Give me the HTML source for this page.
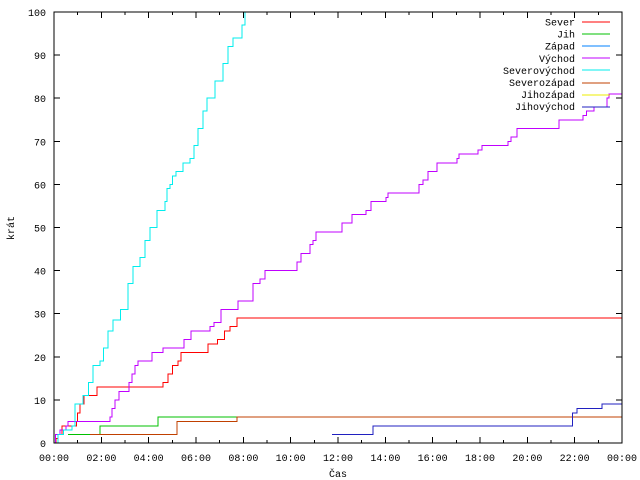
<!DOCTYPE html>
<html><head><meta charset="utf-8"><style>
body{margin:0;background:#fff}
svg{display:block;font-family:"Liberation Mono",monospace;font-size:10px}
</style></head><body>
<svg id="chart" width="640" height="480" viewBox="0 0 640 480" xmlns="http://www.w3.org/2000/svg">
<rect x="0" y="0" width="640" height="480" fill="#fff"/>
<g id="grid" shape-rendering="crispEdges"></g>
<g id="series" shape-rendering="crispEdges"></g>
<rect x="54" y="12" width="568" height="431" fill="none" stroke="#000" stroke-width="1" shape-rendering="crispEdges"/>
<g id="legend"></g>
<text x="14" y="228" text-anchor="middle" transform="rotate(-90 14 228)">krát</text>
<text x="338" y="477" text-anchor="middle">Čas</text>
</svg>
<script>
const yTicks=[0,10,20,30,40,50,60,70,80,90,100];
const xTickLabels=["00:00","02:00","04:00","06:00","08:00","10:00","12:00","14:00","16:00","18:00","20:00","22:00","00:00"];
const seriesNames=["Sever","Jih","Západ","Východ","Severovýchod","Severozápad","Jihozápad","Jihovýchod"];
const seriesColors=["#ff0000","#00c000","#0080ff","#c000ff","#00eeee","#c04000","#eeee00","#2020c0"];
// step data: [hour, value] - value holds from that hour onward
const sever=[[0.05,0],[0.08,1],[0.17,2],[0.34,4],[0.95,5],[1.0,7],[1.1,9],[1.27,11],[1.82,13],[4.6,14],[4.82,16],[5.0,18],[5.24,19],[5.37,21],[6.5,23],[6.9,24],[7.2,26],[7.44,27],[7.73,29]];
const jih=[[0.6,2],[1.94,4],[4.4,6]];
const zapad=[];
const vychod=[[0.0,0],[0.07,2],[0.25,3],[0.5,4],[0.6,5],[2.37,6],[2.45,8],[2.58,10],[2.75,12],[3.17,14],[3.3,16],[3.42,18],[3.55,19],[4.14,21],[4.6,22],[5.5,24],[5.79,26],[6.6,27],[6.76,28],[7.05,31],[7.77,33],[8.41,37],[8.7,38],[8.92,40],[10.27,42],[10.44,44],[10.82,46],[10.95,47],[11.07,49],[12.17,51],[12.59,53],[13.18,54],[13.39,56],[14.03,57],[14.11,58],[15.42,60],[15.6,61],[15.8,63],[16.18,65],[17.03,66],[17.11,67],[17.92,68],[18.08,69],[19.18,70],[19.3,71],[19.56,73],[21.34,75],[22.35,76],[22.5,77],[22.82,78],[23.37,80],[23.45,81]];
const severovychod=[[0.1,0],[0.17,2],[0.4,3],[0.76,4],[0.89,9],[1.23,11],[1.45,14],[1.65,18],[1.95,19],[2.1,22],[2.28,26],[2.5,28.5],[2.8,31],[3.13,37],[3.34,41],[3.63,43],[3.85,47],[4.06,50],[4.35,54],[4.69,56],[4.77,59],[4.9,60],[5.0,62],[5.15,63],[5.45,65],[5.75,66],[5.92,69],[6.08,73],[6.3,77],[6.46,80],[6.8,84],[7.14,88],[7.35,92],[7.56,94],[7.94,97],[8.07,100]];
const severozapad=[[1.52,2],[5.2,5],[7.73,6]];
const jihozapad=[];
const jihovychod=[[11.75,2],[13.48,4],[21.9,7],[22.1,8],[23.16,9]];
const allSeries=[sever,jih,zapad,vychod,severovychod,severozapad,jihozapad,jihovychod];
const X0=54,X1=622,Y0=443,Y1=12;
function xs(h){return X0+h*(X1-X0)/24;}
function ys(v){return Y0-v*(Y0-Y1)/100;}
const NS="http://www.w3.org/2000/svg";
const grid=document.getElementById('grid');
yTicks.forEach(v=>{
  const y=ys(v);
  const t=document.createElementNS(NS,'path');
  t.setAttribute('d',`M${X0} ${y}H${X0+6}M${X1} ${y}H${X1-6}`);
  t.setAttribute('stroke','#000');
  
  
  grid.appendChild(t);
  const l=document.createElementNS(NS,'text');
  l.setAttribute('x',46);l.setAttribute('y',y+4);l.setAttribute('text-anchor','end');
  l.textContent=v;
  
  
  grid.appendChild(l);
});
for(let h=0;h<=24;h++){
  const x=xs(h);
  const t=document.createElementNS(NS,'path');
  const len=(h%2===0)?6:3;
  t.setAttribute('d',`M${x} ${Y0}V${Y0-len}M${x} ${Y1}V${Y1+len}`);
  t.setAttribute('stroke','#000');
  
  
  grid.appendChild(t);
}
xTickLabels.forEach((s,i)=>{
  const l=document.createElementNS(NS,'text');
  l.setAttribute('x',xs(i*2));l.setAttribute('y',461);l.setAttribute('text-anchor','middle');
  l.textContent=s;
  
  
  grid.appendChild(l);
});
const sg=document.getElementById('series');
allSeries.forEach((pts,i)=>{
  if(!pts.length)return;
  let d=`M${xs(pts[0][0])} ${ys(pts[0][1])}`;
  for(let k=1;k<pts.length;k++){d+=`H${xs(pts[k][0])}V${ys(pts[k][1])}`;}
  if(pts[pts.length-1][1]<100)d+=`H${X1}`;
  const p=document.createElementNS(NS,'path');
  p.setAttribute('d',d);p.setAttribute('fill','none');
  p.setAttribute('stroke',seriesColors[i]);p.setAttribute('stroke-width','1');
  
  
  sg.appendChild(p);
});
const lg=document.getElementById('legend');
seriesNames.forEach((n,i)=>{
  const y=22+i*12.1;
  const t=document.createElementNS(NS,'text');
  t.setAttribute('x',575);t.setAttribute('y',y+3.5);t.setAttribute('text-anchor','end');
  t.textContent=n;
  
  
  lg.appendChild(t);
  const l=document.createElementNS(NS,'path');
  l.setAttribute('d',`M582 ${Math.round(y)}H610`);l.setAttribute('stroke',seriesColors[i]);
  l.setAttribute('shape-rendering','crispEdges');
  
  
  lg.appendChild(l);
});
</script>
</body></html>
